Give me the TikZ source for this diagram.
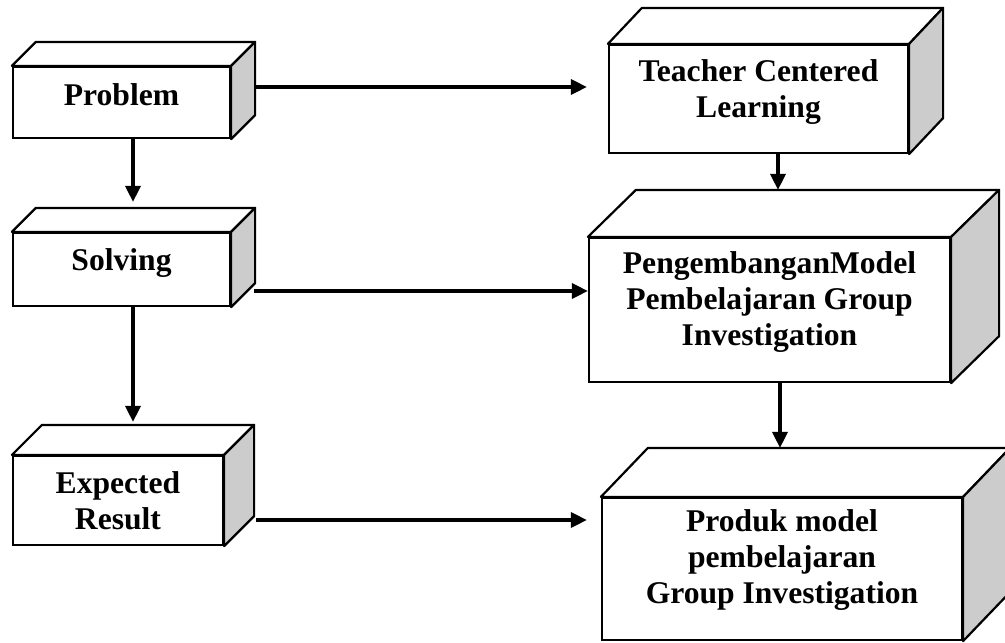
\documentclass[tikz,border=0pt]{standalone}
\usepackage{fontspec}
\setmainfont{Liberation Serif}
\usepackage{tikz}
\usetikzlibrary{arrows.meta,calc,positioning}

% front face of a block is the node, top and side are added here
\newcommand{\blockfaces}[3]{%
  \draw[face, fill=white] (#1.north west) -- ++(#2,#3) -- ($(#1.north east)+(#2,#3)$) coordinate (#1-back) -- (#1.north east) -- cycle;
  \draw[face, fill=black!20] (#1.north east) -- ++(#2,#3) -- ($(#1.south east)+(#2,#3)$) -- (#1.south east) -- cycle;
}

\begin{document}
\begin{tikzpicture}[x=1pt, y=1pt,
    block/.style={draw, line width=2.2pt, fill=white, align=center, inner sep=0pt,
                  font=\fontsize{31.6}{36}\selectfont\bfseries},
    face/.style={line width=2.2pt, line join=round},
    arrow/.style={-{Triangle[length=16pt,width=15pt]}, line width=3.4pt}
]
\useasboundingbox (0,0) rectangle (1005,-643);

% Left column
\node[block, minimum width=217pt, minimum height=71pt, text depth=16pt] (problem) at (121.5,-102.5) {Problem};
\node[block, minimum width=217pt, minimum height=73pt, text depth=20pt] (solving) at (121.5,-269.5) {Solving};
\node[block, minimum width=210pt, minimum height=89pt] (expected) at (118,-500.5) {Expected\\Result};

% Right column
\node[block, minimum width=299pt, minimum height=108pt, text depth=21pt] (teacher) at (758.5,-99) {Teacher Centered\\Learning};
\node[block, minimum width=361pt, minimum height=144pt, text depth=23pt] (pengembangan) at (769.5,-310) {PengembanganModel\\Pembelajaran Group\\Investigation};
\node[block, minimum width=360pt, minimum height=142pt, text depth=25pt] (produk) at (782,-569) {Produk model\\pembelajaran\\Group Investigation};

% 3D faces
\blockfaces{problem}{24}{24}
\blockfaces{solving}{24}{24}
\blockfaces{expected}{30}{30}
\blockfaces{teacher}{34}{36}
\blockfaces{pengembangan}{48}{47}
\blockfaces{produk}{47}{49}

% Horizontal connections
\draw[arrow] ([shift={(23,15.5)}]problem.east) coordinate (p1) -- ([xshift=-21pt]p1 -| teacher.west);
\draw[arrow] ([shift={(23,-21.5)}]solving.east) coordinate (s1) -- (s1 -| pengembangan.west);
\draw[arrow] ([shift={(32,-19.5)}]expected.east) coordinate (e1) -- ([xshift=-14pt]e1 -| produk.west);

% Vertical connections
\draw[arrow] ([xshift=11.5pt]problem.south) coordinate (p2) -- ([yshift=6pt]p2 |- solving-back);
\draw[arrow] ([xshift=11.5pt]solving.south) coordinate (s2) -- ([yshift=3pt]s2 |- expected-back);
\draw[arrow] ([xshift=19.5pt]teacher.south) coordinate (t1) -- (t1 |- pengembangan-back);
\draw[arrow] ([xshift=10.5pt]pengembangan.south) coordinate (g1) -- (g1 |- produk-back);

\end{tikzpicture}
\end{document}
